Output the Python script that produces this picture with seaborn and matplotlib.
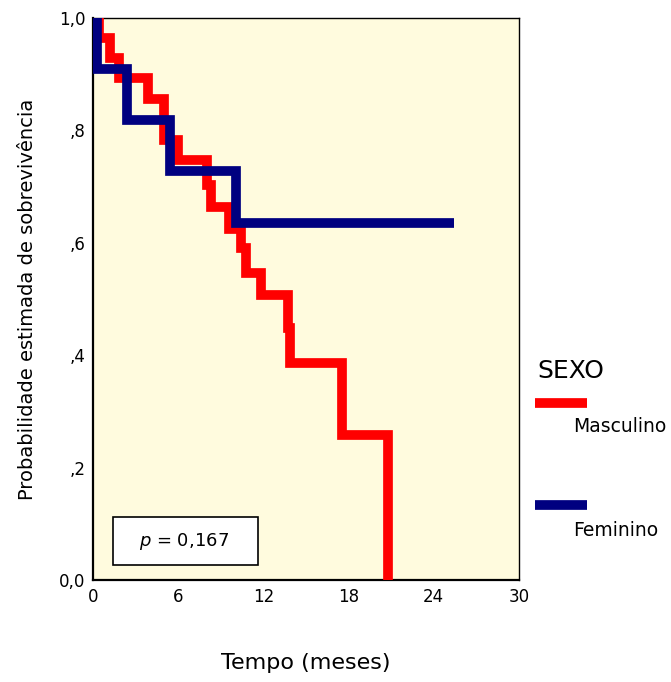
import numpy as np
import pandas as pd
import matplotlib
matplotlib.use("Agg")
import matplotlib.pyplot as plt
import seaborn as sns
from matplotlib.lines import Line2D
from matplotlib.patches import Rectangle

# ---- data ----
masc_time = [0, 0.4, 1.2, 1.8, 3.9, 5.0, 6.0, 8.0, 8.3, 9.6, 10.4, 10.8, 11.8, 13.7, 13.9, 17.5, 20.8]
masc_surv = [1.0, 0.964, 0.929, 0.893, 0.855, 0.783, 0.748, 0.703, 0.664, 0.625, 0.59, 0.546, 0.507, 0.448, 0.386, 0.258, 0.0]
fem_time = [0, 0.3, 2.4, 5.4, 10.1, 25.4]
fem_surv = [1.0, 0.909, 0.818, 0.727, 0.636, 0.636]
groups = ["Masculino", "Feminino"]
colors = ["#FF0000", "#000080"]
x_ticks = [0, 6, 12, 18, 24, 30]
y_ticks = [0.0, 0.2, 0.4, 0.6, 0.8, 1.0]
y_ticklabels = ["0,0", ",2", ",4", ",6", ",8", "1,0"]
p_text = "$\\it{p}$ = 0,167"

df = pd.concat([
    pd.DataFrame({"Tempo": masc_time, "Surv": masc_surv, "SEXO": groups[0]}),
    pd.DataFrame({"Tempo": fem_time, "Surv": fem_surv, "SEXO": groups[1]}),
], ignore_index=True)

sns.set_style("white")
plt.rcParams["font.family"] = ["DejaVu Sans"]
plt.rcParams["text.color"] = "black"
plt.rcParams["axes.labelcolor"] = "black"
plt.rcParams["xtick.color"] = "black"
plt.rcParams["ytick.color"] = "black"

fig = plt.figure(figsize=(6.71, 6.82), dpi=100)
ax = fig.add_axes([93/671, 1-580/682, (519-93)/671, (580-18)/682])
ax.set_facecolor("#FFFBDE")

sns.lineplot(data=df, x="Tempo", y="Surv", hue="SEXO", hue_order=groups,
             palette=colors, estimator=None, sort=False, drawstyle="steps-post",
             linewidth=7, legend=False, ax=ax)
for i, ln in enumerate(ax.get_lines()):
    ln.set_solid_joinstyle("miter")
    ln.set_solid_capstyle("butt")
    ln.set_zorder(3 + i)

ax.set_xlim(0, 30)
ax.set_ylim(0, 1.0)
ax.set_xticks(x_ticks)
ax.set_xticklabels([str(v) for v in x_ticks])
ax.set_yticks(y_ticks)
ax.set_yticklabels(y_ticklabels)
ax.tick_params(axis="both", direction="out", length=2.5, width=2.5, colors="black",
               labelcolor="black", labelsize=12, pad=3)
ax.set_xlabel("Tempo (meses)", fontsize=16, labelpad=34, color="black")
ax.set_ylabel("Probabilidade estimada de sobrevivência", fontsize=14, labelpad=16, color="black")

for s in ["left", "bottom"]:
    ax.spines[s].set_linewidth(1.6)
    ax.spines[s].set_color("black")
for s in ["top", "right"]:
    ax.spines[s].set_visible(True)
    ax.spines[s].set_linewidth(1.0)
    ax.spines[s].set_color("black")

# p-value box
ax.add_patch(Rectangle((113/671, 1-565/682), (258-113)/671, (565-517)/682,
                       transform=fig.transFigure, facecolor="white",
                       edgecolor="black", linewidth=1.2, zorder=6))
fig.text(184/671, 1-541/682, p_text, fontsize=13, ha="center", va="center",
         color="black", zorder=7)

# legend
fig.text(537/671, 1-371/682, "SEXO", fontsize=18, ha="left", va="center", color="black")
for y_line, y_lab, name, c in [(402.5, 427, groups[0], colors[0]), (504.5, 530, groups[1], colors[1])]:
    fig.add_artist(Line2D([535/671, 587/671], [1-y_line/682, 1-y_line/682],
                          transform=fig.transFigure, color=c, linewidth=7,
                          solid_capstyle="butt"))
    fig.text(573/671, 1-y_lab/682, name, fontsize=13.5, ha="left", va="center", color="black")

fig.savefig("out.png", dpi=100, facecolor="white")
